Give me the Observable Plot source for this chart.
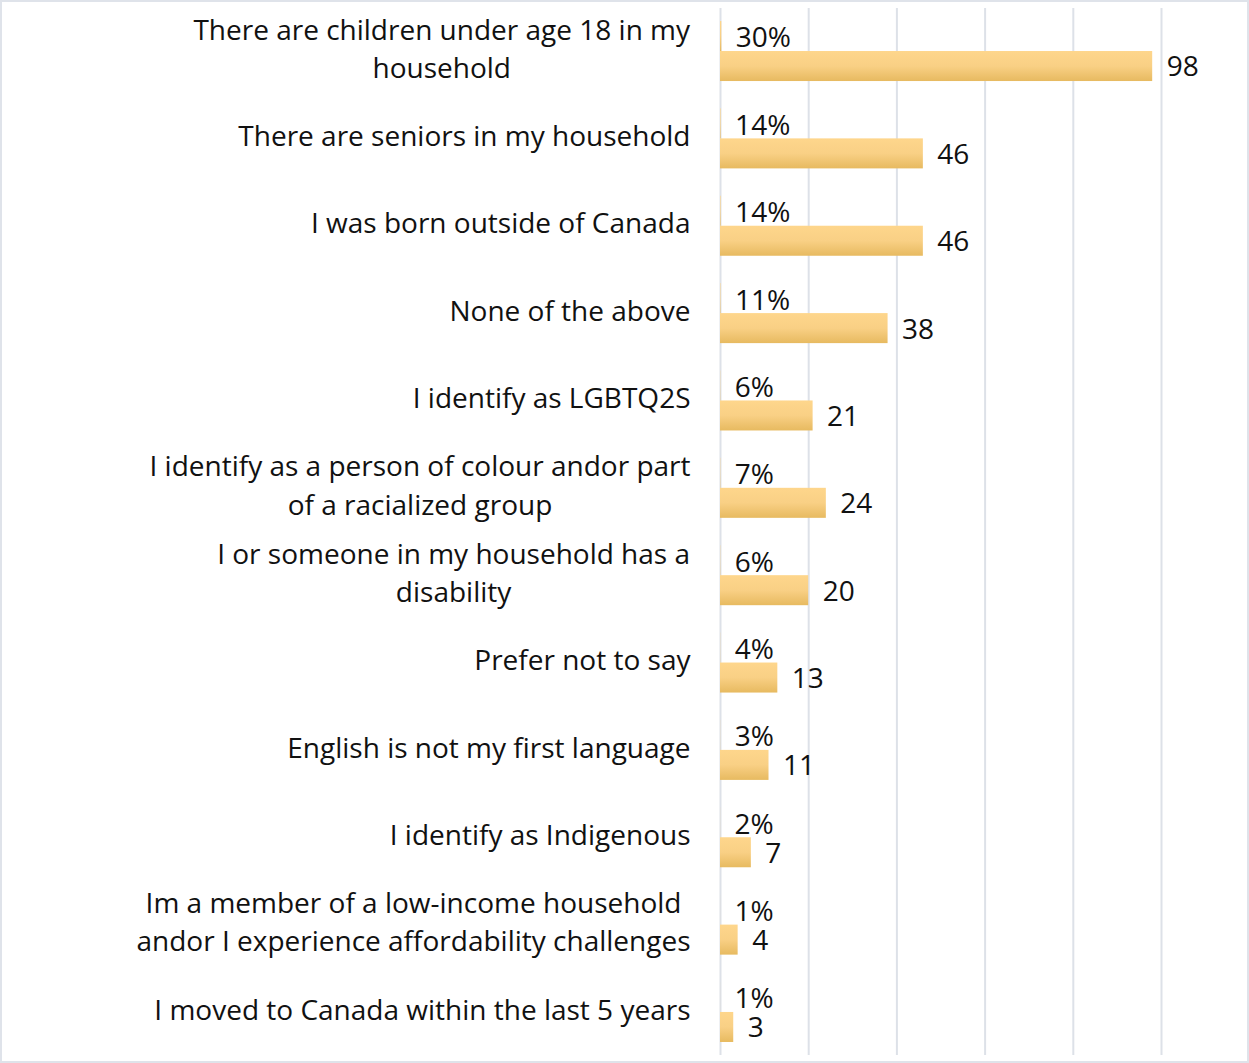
<!DOCTYPE html>
<html><head><meta charset="utf-8">
<script src="https://cdn.jsdelivr.net/npm/d3@7"></script>
<script src="https://cdn.jsdelivr.net/npm/@observablehq/plot@0.6"></script>
<style>
body{margin:0;background:#fff}
#chart svg{display:block;outline:2px solid #dfe3ea;outline-offset:-2px;background:#fff}
</style>
</head><body><div id="chart"></div>
<script>
const categories = [
  "There are children under age 18 in my\nhousehold",
  "There are seniors in my household",
  "I was born outside of Canada",
  "None of the above",
  "I identify as LGBTQ2S",
  "I identify as a person of colour andor part\nof a racialized group",
  "I or someone in my household has a\ndisability",
  "Prefer not to say",
  "English is not my first language",
  "I identify as Indigenous",
  "Im a member of a low-income household\nandor I experience affordability challenges",
  "I moved to Canada within the last 5 years"
];
const percents = [30, 14, 14, 11, 6, 7, 6, 4, 3, 2, 1, 1];
const counts = [98, 46, 46, 38, 21, 24, 20, 13, 11, 7, 4, 3];
const xTicks = [0, 20, 40, 60, 80, 100];

const rows = categories.map((c, i) => ({category: c, pct: percents[i], count: counts[i]}));

const font = {fontFamily: "'Open Sans', sans-serif", fontSize: 28, fill: "#111"};

const chart = Plot.plot({
  width: 1249,
  height: 1063,
  marginLeft: 720,
  marginRight: 88,
  marginTop: 8,
  marginBottom: 8,
  style: {fontFamily: "'Open Sans', sans-serif", background: "#fff"},
  x: {domain: [0, 100], axis: null},
  y: {domain: categories, axis: null, paddingInner: 0.313, paddingOuter: 0.149, round: false},
  marks: [
    Plot.ruleX(xTicks, {stroke: "#dde1e8", strokeWidth: 2}),
    Plot.barX(rows, {y: "category", x: d => d.pct / 100, fill: "url(#barGrad)", insetBottom: 30}),
    Plot.barX(rows, {y: "category", x: "count", fill: "url(#barGrad)", insetTop: 30}),
    Plot.text(rows, {y: "category", x: d => d.pct / 100, text: d => d.pct + "%", dx: 14, dy: -13, textAnchor: "start", ...font}),
    Plot.text(rows, {y: "category", x: "count", text: d => String(d.count), dx: 14, dy: 16, textAnchor: "start", ...font}),
    Plot.text(rows, {y: "category", x: 0, text: "category", dx: -30, dy: -5, textAnchor: "end", lineHeight: 1.36, ...font})
  ]
});

// gradient for bars
const ns = "http://www.w3.org/2000/svg";
const defs = document.createElementNS(ns, "defs");
const grad = document.createElementNS(ns, "linearGradient");
grad.setAttribute("id", "barGrad");
grad.setAttribute("x1", "0"); grad.setAttribute("y1", "0");
grad.setAttribute("x2", "0"); grad.setAttribute("y2", "1");
[["0", "#fed68c"], ["0.5", "#f9d085"], ["1", "#e7ba60"]].forEach(([o, c]) => {
  const s = document.createElementNS(ns, "stop");
  s.setAttribute("offset", o); s.setAttribute("stop-color", c);
  grad.appendChild(s);
});
defs.appendChild(grad);
chart.insertBefore(defs, chart.firstChild);

document.getElementById("chart").appendChild(chart);

// center multi-line category labels within their right-aligned block
chart.querySelectorAll("text").forEach(t => {
  const spans = t.querySelectorAll("tspan");
  if (spans.length > 1) {
    const w = t.getBBox().width;
    t.setAttribute("text-anchor", "middle");
    spans.forEach(s => s.setAttribute("x", String(-w / 2)));
  }
});
</script>
</body></html>
